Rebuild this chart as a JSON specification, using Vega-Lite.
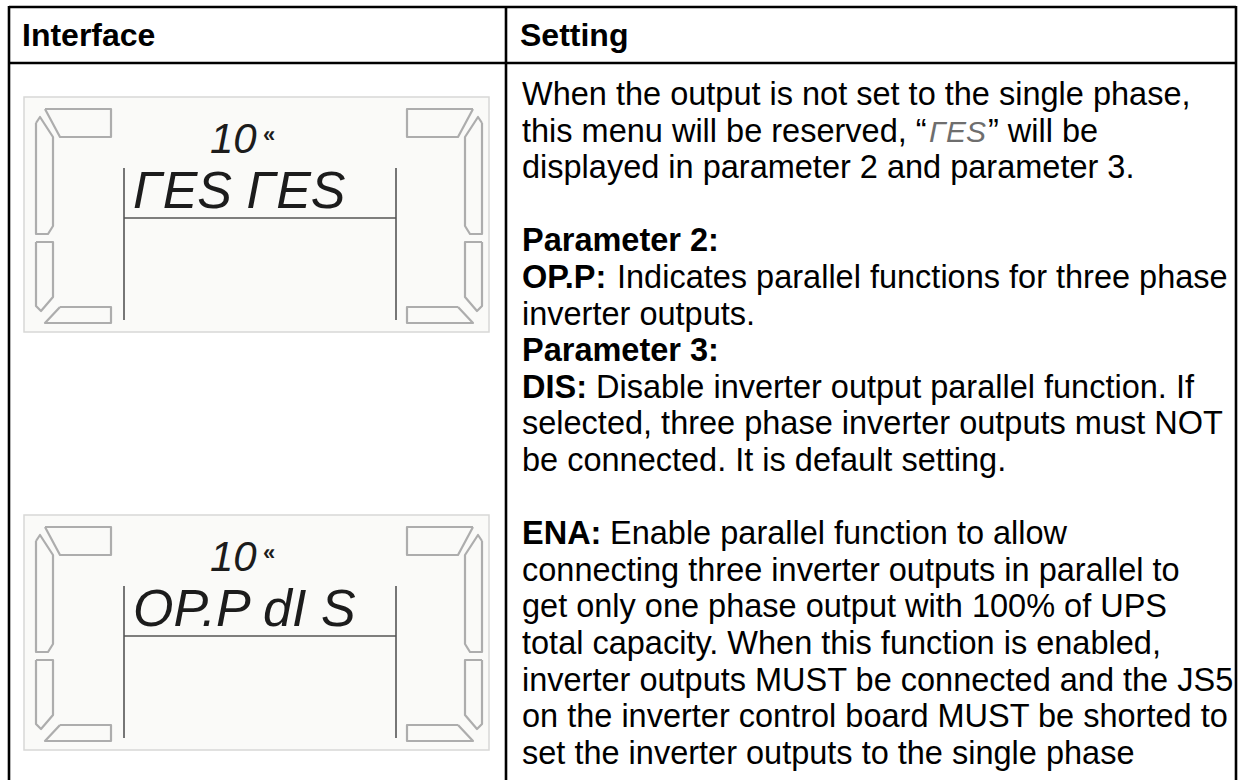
{
  "$schema": "https://vega.github.io/schema/vega-lite/v6.json",
  "width": 1240,
  "height": 780,
  "autosize": {"type": "none"},
  "padding": 0,
  "background": "white",
  "config": {"view": {"stroke": null}, "axis": {"disable": true}, "legend": {"disable": true}},
  "datasets": {
    "grid": [
      {"x": 9, "x2": 1236, "y": 7, "y2": 7},
      {"x": 9, "x2": 1236, "y": 63, "y2": 63},
      {"x": 9, "x2": 9, "y": 6, "y2": 780},
      {"x": 506, "x2": 506, "y": 6, "y2": 780},
      {"x": 1236, "x2": 1236, "y": 6, "y2": 780}
    ],
    "header": [
      {"col": "Interface", "row": 0, "text": "Interface"},
      {"col": "Setting", "row": 0, "text": "Setting"}
    ],
    "body": [
      {"col": "Setting", "line": 1, "lead": "", "text": "When the output is not set to the single phase,"},
      {"col": "Setting", "line": 2, "lead": "", "text": "this menu will be reserved, “", "inline": "ΓES", "tail": "” will be"},
      {"col": "Setting", "line": 3, "lead": "", "text": "displayed in parameter 2 and parameter 3."},
      {"col": "Setting", "line": 5, "lead": "Parameter 2:", "text": ""},
      {"col": "Setting", "line": 6, "lead": "OP.P:", "text": "Indicates parallel functions for three phase"},
      {"col": "Setting", "line": 7, "lead": "", "text": "inverter outputs."},
      {"col": "Setting", "line": 8, "lead": "Parameter 3:", "text": ""},
      {"col": "Setting", "line": 9, "lead": "DIS:", "text": "Disable inverter output parallel function. If"},
      {"col": "Setting", "line": 10, "lead": "", "text": "selected, three phase inverter outputs must NOT"},
      {"col": "Setting", "line": 11, "lead": "", "text": "be connected. It is default setting."},
      {"col": "Setting", "line": 13, "lead": "ENA:", "text": "Enable parallel function to allow"},
      {"col": "Setting", "line": 14, "lead": "", "text": "connecting three inverter outputs in parallel to"},
      {"col": "Setting", "line": 15, "lead": "", "text": "get only one phase output with 100% of UPS"},
      {"col": "Setting", "line": 16, "lead": "", "text": "total capacity. When this function is enabled,"},
      {"col": "Setting", "line": 17, "lead": "", "text": "inverter outputs MUST be connected and the JS5"},
      {"col": "Setting", "line": 18, "lead": "", "text": "on the inverter control board MUST be shorted to"},
      {"col": "Setting", "line": 19, "lead": "", "text": "set the inverter outputs to the single phase"}
    ],
    "lcd": [
      {"kind": "bg", "x": 0, "y": 0, "x2": 465, "y2": 235},
      {"kind": "line", "x": 100, "y": 71, "x2": 100, "y2": 223},
      {"kind": "line", "x": 372, "y": 71, "x2": 372, "y2": 223},
      {"kind": "line", "x": 100, "y": 121, "x2": 372, "y2": 121},
      {"kind": "seg", "seg": "tl", "i": 0, "x": 21, "y": 12},
      {"kind": "seg", "seg": "tl", "i": 1, "x": 87, "y": 12},
      {"kind": "seg", "seg": "tl", "i": 2, "x": 87, "y": 40},
      {"kind": "seg", "seg": "tl", "i": 3, "x": 36, "y": 40},
      {"kind": "seg", "seg": "tl", "i": 4, "x": 21, "y": 12},
      {"kind": "seg", "seg": "lu", "i": 0, "x": 12, "y": 26},
      {"kind": "seg", "seg": "lu", "i": 1, "x": 16, "y": 20},
      {"kind": "seg", "seg": "lu", "i": 2, "x": 29, "y": 40},
      {"kind": "seg", "seg": "lu", "i": 3, "x": 29, "y": 129},
      {"kind": "seg", "seg": "lu", "i": 4, "x": 24, "y": 137},
      {"kind": "seg", "seg": "lu", "i": 5, "x": 12, "y": 137},
      {"kind": "seg", "seg": "lu", "i": 6, "x": 12, "y": 26},
      {"kind": "seg", "seg": "ll", "i": 0, "x": 12, "y": 145},
      {"kind": "seg", "seg": "ll", "i": 1, "x": 29, "y": 145},
      {"kind": "seg", "seg": "ll", "i": 2, "x": 29, "y": 200},
      {"kind": "seg", "seg": "ll", "i": 3, "x": 17, "y": 214},
      {"kind": "seg", "seg": "ll", "i": 4, "x": 12, "y": 209},
      {"kind": "seg", "seg": "ll", "i": 5, "x": 12, "y": 145},
      {"kind": "seg", "seg": "bl", "i": 0, "x": 36, "y": 210},
      {"kind": "seg", "seg": "bl", "i": 1, "x": 87, "y": 210},
      {"kind": "seg", "seg": "bl", "i": 2, "x": 87, "y": 226},
      {"kind": "seg", "seg": "bl", "i": 3, "x": 21, "y": 226},
      {"kind": "seg", "seg": "bl", "i": 4, "x": 36, "y": 210},
      {"kind": "seg", "seg": "tr", "i": 0, "x": 449, "y": 12},
      {"kind": "seg", "seg": "tr", "i": 1, "x": 383, "y": 12},
      {"kind": "seg", "seg": "tr", "i": 2, "x": 383, "y": 40},
      {"kind": "seg", "seg": "tr", "i": 3, "x": 434, "y": 40},
      {"kind": "seg", "seg": "tr", "i": 4, "x": 449, "y": 12},
      {"kind": "seg", "seg": "ru", "i": 0, "x": 458, "y": 26},
      {"kind": "seg", "seg": "ru", "i": 1, "x": 454, "y": 20},
      {"kind": "seg", "seg": "ru", "i": 2, "x": 441, "y": 40},
      {"kind": "seg", "seg": "ru", "i": 3, "x": 441, "y": 129},
      {"kind": "seg", "seg": "ru", "i": 4, "x": 446, "y": 137},
      {"kind": "seg", "seg": "ru", "i": 5, "x": 458, "y": 137},
      {"kind": "seg", "seg": "ru", "i": 6, "x": 458, "y": 26},
      {"kind": "seg", "seg": "rl", "i": 0, "x": 458, "y": 145},
      {"kind": "seg", "seg": "rl", "i": 1, "x": 441, "y": 145},
      {"kind": "seg", "seg": "rl", "i": 2, "x": 441, "y": 200},
      {"kind": "seg", "seg": "rl", "i": 3, "x": 453, "y": 214},
      {"kind": "seg", "seg": "rl", "i": 4, "x": 458, "y": 209},
      {"kind": "seg", "seg": "rl", "i": 5, "x": 458, "y": 145},
      {"kind": "seg", "seg": "br", "i": 0, "x": 434, "y": 210},
      {"kind": "seg", "seg": "br", "i": 1, "x": 383, "y": 210},
      {"kind": "seg", "seg": "br", "i": 2, "x": 383, "y": 226},
      {"kind": "seg", "seg": "br", "i": 3, "x": 449, "y": 226},
      {"kind": "seg", "seg": "br", "i": 4, "x": 434, "y": 210},
      {"kind": "num", "panel": 1, "text": "10", "x": 186, "y": 56},
      {"kind": "chev", "panel": 1, "text": "«", "x": 239, "y": 45},
      {"kind": "main", "panel": 1, "text": "ΓES ΓES", "x": 109, "y": 111},
      {"kind": "num", "panel": 2, "text": "10", "x": 186, "y": 56},
      {"kind": "chev", "panel": 2, "text": "«", "x": 239, "y": 45},
      {"kind": "main", "panel": 2, "text": "OP.P  dI S", "x": 109, "y": 111}
    ]
  },
  "layer": [
    {
      "data": {"name": "grid"},
      "mark": {"type": "rule", "color": "#000000", "strokeWidth": 2.6},
      "encoding": {
        "x": {"field": "x", "type": "quantitative", "scale": {"domain": [0, 1240], "range": [0, 1240], "nice": false, "zero": false}},
        "x2": {"field": "x2"},
        "y": {"field": "y", "type": "quantitative", "scale": {"domain": [0, 780], "range": [0, 780], "nice": false, "zero": false}},
        "y2": {"field": "y2"}
      }
    },
    {
      "data": {"name": "header"},
      "mark": {"type": "text", "align": "left", "baseline": "alphabetic", "font": "Liberation Sans", "fontWeight": "bold", "fontSize": 32, "color": "#000000"},
      "encoding": {
        "x": {"field": "col", "type": "nominal", "scale": {"type": "point", "domain": ["Interface", "Setting"], "range": [22, 520], "padding": 0}},
        "y": {"field": "row", "type": "quantitative", "scale": {"domain": [0, 1], "range": [46, 80], "nice": false, "zero": false}},
        "text": {"field": "text"}
      }
    },
    {
      "data": {"name": "body"},
      "encoding": {
        "x": {"field": "col", "type": "nominal", "scale": {"type": "point", "domain": ["Interface", "Setting"], "range": [22, 522], "padding": 0}},
        "y": {"field": "line", "type": "quantitative", "scale": {"domain": [-1.869, 19.443], "range": [0, 780], "nice": false, "zero": false}}
      },
      "layer": [
        {
          "transform": [{"filter": "datum.lead === ''"}],
          "mark": {"type": "text", "align": "left", "baseline": "alphabetic", "font": "Liberation Sans", "fontSize": 32.5, "color": "#000000"},
          "encoding": {"text": {"field": "text"}}
        },
        {
          "transform": [{"filter": "datum.lead !== ''"}],
          "mark": {"type": "text", "align": "left", "baseline": "alphabetic", "font": "Liberation Sans", "fontWeight": "bold", "fontSize": 32.5, "color": "#000000"},
          "encoding": {"text": {"field": "lead"}}
        },
        {
          "transform": [{"filter": "datum.lead === 'OP.P:'"}],
          "mark": {"type": "text", "align": "left", "baseline": "alphabetic", "font": "Liberation Sans", "fontSize": 32.5, "color": "#000000", "dx": 95},
          "encoding": {"text": {"field": "text"}}
        },
        {
          "transform": [{"filter": "datum.lead === 'DIS:'"}],
          "mark": {"type": "text", "align": "left", "baseline": "alphabetic", "font": "Liberation Sans", "fontSize": 32.5, "color": "#000000", "dx": 74},
          "encoding": {"text": {"field": "text"}}
        },
        {
          "transform": [{"filter": "datum.lead === 'ENA:'"}],
          "mark": {"type": "text", "align": "left", "baseline": "alphabetic", "font": "Liberation Sans", "fontSize": 32.5, "color": "#000000", "dx": 88},
          "encoding": {"text": {"field": "text"}}
        },
        {
          "transform": [{"filter": "datum.inline"}],
          "mark": {"type": "text", "align": "left", "baseline": "alphabetic", "font": "Liberation Sans", "fontStyle": "italic", "fontSize": 30, "color": "#6e6e6e", "dx": 407},
          "encoding": {"text": {"field": "inline"}}
        },
        {
          "transform": [{"filter": "datum.tail"}],
          "mark": {"type": "text", "align": "left", "baseline": "alphabetic", "font": "Liberation Sans", "fontSize": 32.5, "color": "#000000", "dx": 466},
          "encoding": {"text": {"field": "tail"}}
        }
      ]
    },
    {
      "data": {"name": "lcd"},
      "encoding": {
        "x": {"field": "x", "type": "quantitative", "scale": {"domain": [0, 465], "range": [24, 489], "nice": false, "zero": false}},
        "y": {"field": "y", "type": "quantitative", "scale": {"domain": [0, 235], "range": [97, 332], "nice": false, "zero": false}}
      },
      "layer": [
        {
          "transform": [{"filter": "datum.kind === 'bg'"}],
          "mark": {"type": "rect", "fill": "#fafaf8", "stroke": "#d8d8d6", "strokeWidth": 1.5},
          "encoding": {"x2": {"field": "x2"}, "y2": {"field": "y2"}}
        },
        {
          "transform": [{"filter": "datum.kind === 'line'"}],
          "mark": {"type": "rule", "color": "#555555", "strokeWidth": 1.6},
          "encoding": {"x2": {"field": "x2"}, "y2": {"field": "y2"}}
        },
        {
          "transform": [{"filter": "datum.kind === 'seg'"}],
          "mark": {"type": "line", "color": "#adadad", "strokeWidth": 2.2, "strokeJoin": "round"},
          "encoding": {"detail": {"field": "seg"}, "order": {"field": "i", "type": "quantitative"}}
        },
        {
          "transform": [{"filter": "datum.kind === 'num' && datum.panel === 1"}],
          "mark": {"type": "text", "align": "left", "baseline": "alphabetic", "font": "Liberation Sans", "fontStyle": "italic", "fontSize": 42, "color": "#1c1c1c"},
          "encoding": {"text": {"field": "text"}}
        },
        {
          "transform": [{"filter": "datum.kind === 'chev' && datum.panel === 1"}],
          "mark": {"type": "text", "align": "left", "baseline": "alphabetic", "font": "Liberation Sans", "fontWeight": "bold", "fontSize": 22, "color": "#1c1c1c"},
          "encoding": {"text": {"field": "text"}}
        },
        {
          "transform": [{"filter": "datum.kind === 'main' && datum.panel === 1"}],
          "mark": {"type": "text", "align": "left", "baseline": "alphabetic", "font": "Liberation Sans", "fontStyle": "italic", "fontSize": 52, "color": "#1c1c1c"},
          "encoding": {"text": {"field": "text"}}
        }
      ]
    },
    {
      "data": {"name": "lcd"},
      "encoding": {
        "x": {"field": "x", "type": "quantitative", "scale": {"domain": [0, 465], "range": [24, 489], "nice": false, "zero": false}},
        "y": {"field": "y", "type": "quantitative", "scale": {"domain": [0, 235], "range": [515, 750], "nice": false, "zero": false}}
      },
      "layer": [
        {
          "transform": [{"filter": "datum.kind === 'bg'"}],
          "mark": {"type": "rect", "fill": "#fafaf8", "stroke": "#d8d8d6", "strokeWidth": 1.5},
          "encoding": {"x2": {"field": "x2"}, "y2": {"field": "y2"}}
        },
        {
          "transform": [{"filter": "datum.kind === 'line'"}],
          "mark": {"type": "rule", "color": "#555555", "strokeWidth": 1.6},
          "encoding": {"x2": {"field": "x2"}, "y2": {"field": "y2"}}
        },
        {
          "transform": [{"filter": "datum.kind === 'seg'"}],
          "mark": {"type": "line", "color": "#adadad", "strokeWidth": 2.2, "strokeJoin": "round"},
          "encoding": {"detail": {"field": "seg"}, "order": {"field": "i", "type": "quantitative"}}
        },
        {
          "transform": [{"filter": "datum.kind === 'num' && datum.panel === 2"}],
          "mark": {"type": "text", "align": "left", "baseline": "alphabetic", "font": "Liberation Sans", "fontStyle": "italic", "fontSize": 42, "color": "#1c1c1c"},
          "encoding": {"text": {"field": "text"}}
        },
        {
          "transform": [{"filter": "datum.kind === 'chev' && datum.panel === 2"}],
          "mark": {"type": "text", "align": "left", "baseline": "alphabetic", "font": "Liberation Sans", "fontWeight": "bold", "fontSize": 22, "color": "#1c1c1c"},
          "encoding": {"text": {"field": "text"}}
        },
        {
          "transform": [{"filter": "datum.kind === 'main' && datum.panel === 2"}],
          "mark": {"type": "text", "align": "left", "baseline": "alphabetic", "font": "Liberation Sans", "fontStyle": "italic", "fontSize": 52, "color": "#1c1c1c"},
          "encoding": {"text": {"field": "text"}}
        }
      ]
    }
  ],
  "resolve": {"scale": {"x": "independent", "y": "independent"}}
}
